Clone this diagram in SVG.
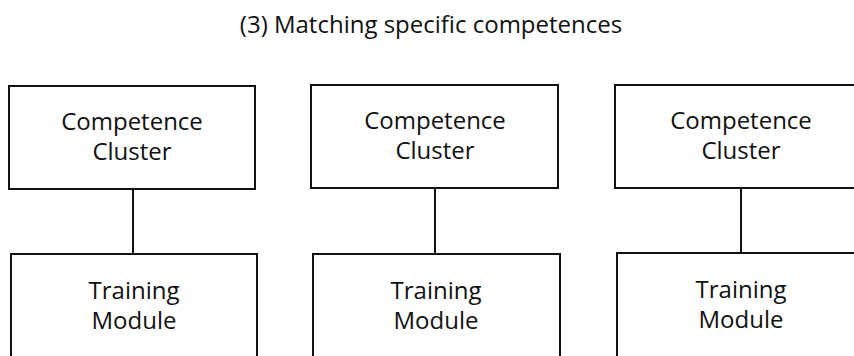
<svg xmlns="http://www.w3.org/2000/svg" width="854" height="356" viewBox="0 0 854 356">
<style>
.box{fill:#fff;stroke:#111;stroke-width:2}
.lbl{font-family:"Open Sans","Liberation Sans",sans-serif;font-size:24px;fill:#111;text-anchor:middle}
.title{font-family:"Open Sans","Liberation Sans",sans-serif;font-size:24px;fill:#111;text-anchor:middle}
.conn{stroke:#111;stroke-width:2;fill:none}
</style>
<rect width="854" height="356" fill="#fff"/>
<text class="title" x="431" y="33">(3) Matching specific competences</text>
<g id="connectors">
<line class="conn" x1="133" y1="189" x2="133" y2="254"/>
<line class="conn" x1="435" y1="188" x2="435" y2="254"/>
<line class="conn" x1="741" y1="188" x2="741" y2="253"/>
</g>
<g id="cc1"><rect class="box" x="9" y="86" width="246" height="103"/><text class="lbl" x="132" y="130">Competence</text><text class="lbl" x="132" y="160">Cluster</text></g>
<g id="cc2"><rect class="box" x="311" y="85" width="247" height="103"/><text class="lbl" x="435" y="129">Competence</text><text class="lbl" x="435" y="159">Cluster</text></g>
<g id="cc3"><rect class="box" x="615" y="85" width="250" height="103"/><text class="lbl" x="741" y="129">Competence</text><text class="lbl" x="741" y="159">Cluster</text></g>
<g id="tm1"><rect class="box" x="11" y="254" width="246" height="120"/><text class="lbl" x="134" y="299">Training</text><text class="lbl" x="134" y="329">Module</text></g>
<g id="tm2"><rect class="box" x="313" y="254" width="247" height="120"/><text class="lbl" x="436" y="299">Training</text><text class="lbl" x="436" y="329">Module</text></g>
<g id="tm3"><rect class="box" x="617" y="253" width="250" height="120"/><text class="lbl" x="741" y="298">Training</text><text class="lbl" x="741" y="328">Module</text></g>
</svg>
